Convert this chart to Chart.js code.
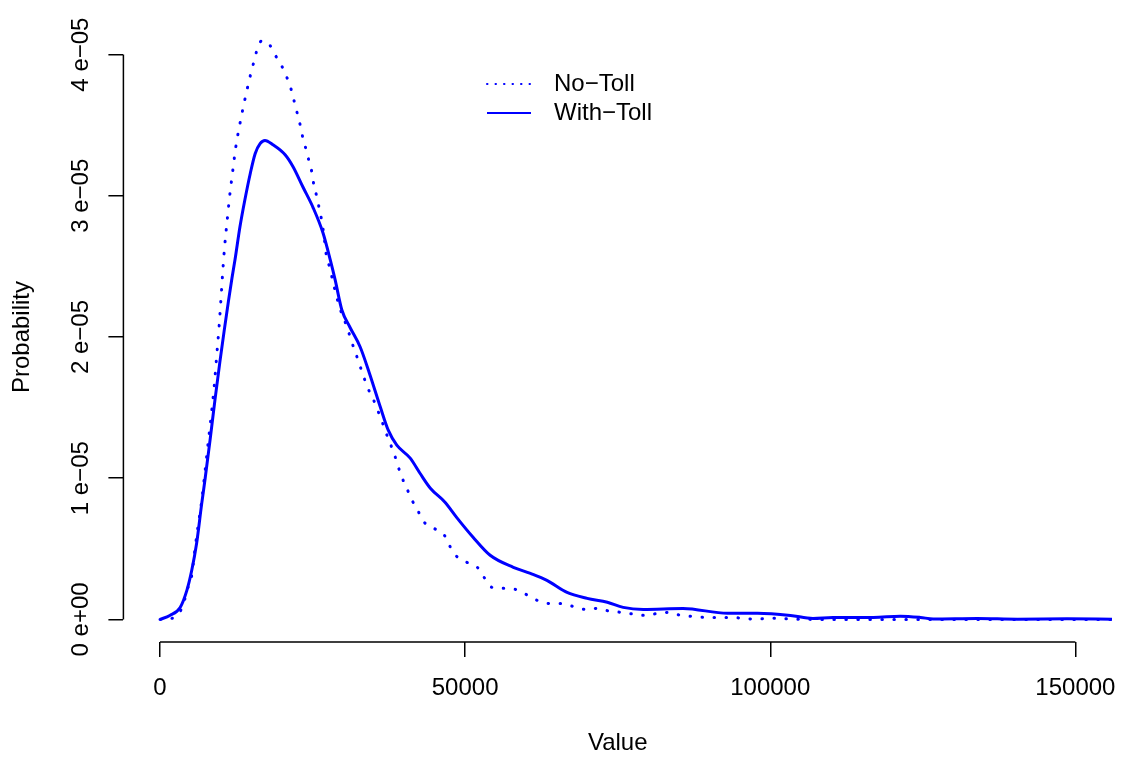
<!DOCTYPE html>
<html>
<head>
<meta charset="utf-8">
<title>No-Toll vs With-Toll</title>
<script src="https://cdn.jsdelivr.net/npm/chart.js@4.4.1/dist/chart.umd.min.js"></script>
<style>
  html, body { margin: 0; padding: 0; background: #fff; }
  canvas { display: block; }
</style>
</head>
<body>
<canvas id="density-chart" width="1124" height="758"></canvas>
<script>
const xTicks = [0, 50000, 100000, 150000];
// densities are in units of 1e-05
const yTicks = [0, 1, 2, 3, 4];

const withTollX = [0, 1600, 3300, 4400, 5200, 6000, 6800, 7400, 8200, 9000, 9800, 10500, 11200, 11800, 12300, 13100, 13900, 14800, 15600, 16400, 17200, 18500, 20500, 21800, 23400, 25100, 26700, 27900, 28700, 29800, 31100, 32800, 34300, 36100, 37400, 38800, 41000, 42600, 44300, 46700, 48600, 51300, 54100, 57900, 60700, 63400, 66700, 70000, 73300, 75900, 79200, 85700, 93000, 97900, 103300, 107000, 110300, 116900, 121300, 124600, 126700, 133900, 140500, 148700, 156200];
const withTollY = [0, 0.028, 0.085, 0.206, 0.348, 0.539, 0.809, 1.0, 1.27, 1.553, 1.82, 2.04, 2.25, 2.42, 2.55, 2.78, 2.97, 3.16, 3.3, 3.37, 3.392, 3.362, 3.291, 3.206, 3.064, 2.915, 2.738, 2.546, 2.404, 2.191, 2.071, 1.929, 1.745, 1.504, 1.34, 1.234, 1.142, 1.035, 0.929, 0.83, 0.723, 0.582, 0.454, 0.369, 0.326, 0.277, 0.191, 0.149, 0.121, 0.085, 0.071, 0.078, 0.043, 0.043, 0.028, 0.007, 0.014, 0.014, 0.023, 0.014, 0.003, 0.007, 0.002, 0.004, 0.001];

const noTollX = [0, 1900, 3400, 4100, 4600, 5200, 5700, 6200, 6800, 7400, 7900, 8400, 8900, 9300, 9700, 10000, 10300, 10600, 11000, 11400, 11900, 12400, 13100, 13900, 14800, 15300, 15800, 16700, 18000, 19000, 20000, 20800, 21500, 22000, 22500, 23000, 23400, 23900, 24400, 24900, 25200, 25700, 26100, 26500, 26800, 27300, 27900, 28300, 28800, 29300, 30000, 30700, 31300, 32000, 32600, 33300, 33900, 34800, 35600, 36300, 37000, 37700, 38400, 39000, 39700, 40500, 41300, 42300, 43300, 44900, 46600, 47500, 48600, 50300, 52000, 53100, 54400, 56200, 58200, 60000, 61800, 63800, 65700, 67700, 69700, 71600, 73600, 75600, 77500, 79600, 81500, 83400, 85400, 87500, 89500, 93400, 97500, 99500, 101500, 103400, 109500, 156200];
const noTollY = [0, 0.007, 0.064, 0.149, 0.227, 0.312, 0.489, 0.652, 0.83, 1.057, 1.255, 1.447, 1.66, 1.872, 2.085, 2.277, 2.475, 2.645, 2.823, 2.993, 3.17, 3.34, 3.511, 3.681, 3.851, 3.936, 4.019, 4.099, 4.066, 3.988, 3.915, 3.837, 3.752, 3.667, 3.582, 3.496, 3.411, 3.333, 3.248, 3.163, 3.078, 2.993, 2.908, 2.823, 2.738, 2.567, 2.482, 2.397, 2.312, 2.227, 2.142, 2.064, 1.979, 1.894, 1.816, 1.73, 1.652, 1.574, 1.489, 1.411, 1.326, 1.248, 1.17, 1.085, 1.0, 0.922, 0.844, 0.766, 0.688, 0.645, 0.596, 0.518, 0.447, 0.404, 0.369, 0.298, 0.227, 0.22, 0.213, 0.177, 0.135, 0.113, 0.113, 0.092, 0.071, 0.078, 0.059, 0.05, 0.038, 0.028, 0.043, 0.05, 0.028, 0.021, 0.014, 0.014, 0.002, 0.007, 0.009, 0.002, 0, 0];

const seriesNames = ["No\u2212Toll", "With\u2212Toll"];
const blue = "#0000ff";
const font = "Liberation Sans, Arial, Helvetica, sans-serif";

function toPoints(xs, ys) {
  return xs.map((x, i) => ({ x: x, y: ys[i] }));
}

function yLabel(v) {
  return v === 0 ? "0 e+00" : v + " e\u221205";
}

// R-style axes (lines only between the end ticks), rotated y labels and legend
const rAxes = {
  id: "rAxes",
  afterDraw(chart) {
    const c = chart.ctx;
    const xs = chart.scales.x;
    const ys = chart.scales.y;
    const area = chart.chartArea;
    c.save();
    c.strokeStyle = "#000";
    c.lineWidth = 1.5;
    c.beginPath();
    c.moveTo(xs.getPixelForValue(xTicks[0]), area.bottom);
    c.lineTo(xs.getPixelForValue(xTicks[xTicks.length - 1]), area.bottom);
    c.moveTo(area.left, ys.getPixelForValue(yTicks[0]));
    c.lineTo(area.left, ys.getPixelForValue(yTicks[yTicks.length - 1]));
    c.stroke();

    c.fillStyle = "#000";
    c.font = "24px " + font;
    c.textAlign = "center";
    c.textBaseline = "alphabetic";
    yTicks.forEach(v => {
      c.save();
      c.translate(88, ys.getPixelForValue(v));
      c.rotate(-Math.PI / 2);
      c.fillText(yLabel(v), 0, 0);
      c.restore();
    });

    // legend
    c.strokeStyle = blue;
    c.lineWidth = 2;
    c.lineCap = "round";
    c.setLineDash([0.5, 8]);
    c.beginPath();
    c.moveTo(487, 84);
    c.lineTo(531, 84);
    c.stroke();
    c.setLineDash([]);
    c.lineCap = "butt";
    c.beginPath();
    c.moveTo(487, 113);
    c.lineTo(531, 113);
    c.stroke();
    c.textAlign = "left";
    c.textBaseline = "middle";
    c.fillText(seriesNames[0], 554, 84);
    c.fillText(seriesNames[1], 554, 113);
    c.restore();
  }
};

new Chart(document.getElementById("density-chart"), {
  type: "line",
  data: {
    datasets: [
      {
        label: seriesNames[1],
        data: toPoints(withTollX, withTollY),
        borderColor: blue,
        borderWidth: 3,
        pointRadius: 0,
        fill: false,
        cubicInterpolationMode: "monotone",
      },
      {
        label: seriesNames[0],
        data: toPoints(noTollX, noTollY),
        borderColor: blue,
        borderWidth: 3,
        borderDash: [0.5, 11.5],
        borderCapStyle: "round",
        pointRadius: 0,
        fill: false,
        cubicInterpolationMode: "monotone",
      },
    ],
  },
  options: {
    responsive: false,
    animation: false,
    layout: {
      padding: { top: 32, right: 12, left: 0, bottom: 0 },
    },
    scales: {
      x: {
        type: "linear",
        min: -6000,
        max: 156000,
        afterBuildTicks: scale => {
          scale.ticks = xTicks.map(v => ({ value: v }));
        },
        afterFit: scale => {
          scale.height = 116;
          scale.paddingLeft = 0;
          scale.paddingRight = 0;
        },
        ticks: {
          autoSkip: false,
          maxRotation: 0,
          padding: 17,
          color: "#000",
          font: { family: font, size: 24 },
          callback: v => String(v),
        },
        grid: {
          drawOnChartArea: false,
          tickLength: 15,
          color: "#000",
          lineWidth: 1.5,
        },
        border: { display: false },
        title: {
          display: true,
          text: "Value",
          color: "#000",
          font: { family: font, size: 24 },
          padding: { top: 0, bottom: 0 },
        },
      },
      y: {
        min: -0.16,
        max: 4.16,
        afterBuildTicks: scale => {
          scale.ticks = yTicks.map(v => ({ value: v }));
        },
        afterFit: scale => {
          scale.width = 123.4;
        },
        ticks: { display: false },
        grid: {
          drawOnChartArea: false,
          tickLength: 15,
          color: "#000",
          lineWidth: 1.5,
        },
        border: { display: false },
        title: {
          display: true,
          text: "Probability",
          color: "#000",
          font: { family: font, size: 24 },
          padding: { top: 8, bottom: 0 },
        },
      },
    },
    plugins: {
      legend: { display: false },
      tooltip: { enabled: false },
    },
  },
  plugins: [rAxes],
});
</script>
</body>
</html>
